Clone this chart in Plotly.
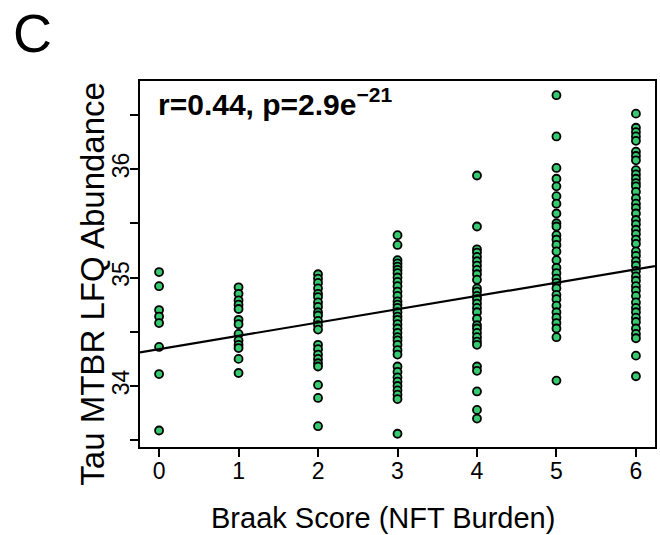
import plotly.graph_objects as go

# Braak score groups and Tau MTBR LFQ abundance values
braak_scores = [0, 1, 2, 3, 4, 5, 6]
braak0 = [35.05, 34.92, 34.70, 34.64, 34.58, 34.36, 34.11, 33.59]
braak1 = [34.91, 34.85, 34.79, 34.75, 34.71, 34.61, 34.57, 34.48, 34.42, 34.38,
          34.35, 34.25, 34.12]
braak2 = [35.03, 34.99, 34.95, 34.90, 34.85, 34.82, 34.77, 34.73, 34.68, 34.65,
          34.60, 34.56, 34.52, 34.38, 34.34, 34.29, 34.25, 34.21, 34.18, 34.01,
          33.89, 33.63]
braak3 = [35.39, 35.30, 35.16, 35.13, 35.10, 35.07, 35.04, 35.00, 34.96, 34.92,
          34.87, 34.83, 34.78, 34.75, 34.72, 34.68, 34.64, 34.61, 34.57, 34.53,
          34.49, 34.45, 34.42, 34.38, 34.33, 34.29, 34.18, 34.13, 34.08, 34.04,
          34.00, 33.96, 33.92, 33.88, 33.56]
braak4 = [35.94, 35.47, 35.26, 35.23, 35.19, 35.15, 35.11, 35.07, 35.03, 34.98,
          34.90, 34.87, 34.83, 34.80, 34.76, 34.72, 34.68, 34.62, 34.56, 34.53,
          34.49, 34.45, 34.41, 34.38, 34.18, 34.14, 33.95, 33.78, 33.70]
braak5 = [36.68, 36.30, 36.01, 35.91, 35.84, 35.75, 35.68, 35.59, 35.50, 35.47,
          35.39, 35.35, 35.30, 35.24, 35.16, 35.09, 35.04, 34.99, 34.95, 34.90,
          34.84, 34.80, 34.74, 34.68, 34.63, 34.58, 34.53, 34.45, 34.05]
braak6 = [36.51, 36.38, 36.34, 36.30, 36.26, 36.16, 36.12, 36.08, 35.99, 35.95,
          35.91, 35.87, 35.84, 35.79, 35.73, 35.68, 35.64, 35.59, 35.53, 35.49,
          35.44, 35.40, 35.35, 35.31, 35.24, 35.20, 35.15, 35.11, 35.06, 35.01,
          34.97, 34.92, 34.88, 34.83, 34.77, 34.72, 34.68, 34.63, 34.59, 34.53,
          34.48, 34.44, 34.28, 34.09]
groups = [braak0, braak1, braak2, braak3, braak4, braak5, braak6]

# Linear fit
fit_intercept = 34.34
fit_slope = 0.1225
stat_label = "r=0.44, p=2.9e<sup>\u221221</sup>"
x_title = "Braak Score (NFT Burden)"
y_title = "Tau MTBR LFQ Abundance"
panel_label = "C"

x_ticks = [0, 1, 2, 3, 4, 5, 6]
y_ticks = [34, 35, 36]

x_range = [-0.24, 6.24]
y_range = [33.438, 36.811]

xs, ys = [], []
for s, vals in zip(braak_scores, groups):
    xs += [s] * len(vals)
    ys += vals

FONT = "Liberation Sans, Arial, Helvetica, sans-serif"

fig = go.Figure()
fig.add_trace(go.Scatter(
    x=xs, y=ys, mode="markers",
    marker=dict(size=8, color="#36c96f", line=dict(color="black", width=1.8)),
    showlegend=False, hoverinfo="x+y",
))
fig.add_trace(go.Scatter(
    x=x_range, y=[fit_intercept + fit_slope * v for v in x_range],
    mode="lines", line=dict(color="black", width=2.2),
    showlegend=False, hoverinfo="skip",
))

fig.update_layout(
    width=660, height=535,
    margin=dict(l=140, r=5, t=81, b=88),
    paper_bgcolor="white", plot_bgcolor="white",
    font=dict(family=FONT, color="black"),
    xaxis=dict(
        range=x_range, tickvals=x_ticks, ticktext=[str(t) for t in x_ticks],
        ticks="outside", ticklen=8, tickwidth=1.8, tickcolor="black",
        ticklabelstandoff=-6,
        showline=True, mirror=True, linecolor="black", linewidth=2,
        showgrid=False, zeroline=False,
        tickfont=dict(size=23, family=FONT),
        automargin=False,
    ),
    yaxis=dict(
        range=y_range, tickvals=y_ticks, ticktext=[str(t) for t in y_ticks], tickangle=-90,
        ticks="outside", ticklen=8, tickwidth=1.8, tickcolor="black",
        ticklabelstandoff=-8,
        minor=dict(tick0=33.5, dtick=0.5, ticks="outside", ticklen=8,
                   tickwidth=1.8, tickcolor="black", showgrid=False),
        showline=True, mirror=True, linecolor="black", linewidth=2,
        showgrid=False, zeroline=False,
        tickfont=dict(size=23, family=FONT),
        automargin=False,
    ),
    annotations=[
        dict(text=panel_label, xref="paper", yref="paper", x=-0.2097, y=1.131,
             xanchor="center", yanchor="middle", showarrow=False,
             font=dict(size=54, family=FONT)),
        dict(text="<b>" + stat_label + "</b>", xref="paper", yref="paper",
             x=0.031, y=0.943, xanchor="left", yanchor="middle", showarrow=False,
             font=dict(size=30, family=FONT)),
        dict(text=x_title, xref="paper", yref="paper", x=0.472, y=-0.194,
             xanchor="center", yanchor="middle", showarrow=False,
             font=dict(size=29, family=FONT)),
        dict(text=y_title, xref="paper", yref="paper", x=-0.0922, y=0.445,
             xanchor="center", yanchor="middle", showarrow=False, textangle=-90,
             font=dict(size=33, family=FONT)),
    ],
)

fig.write_html("out.html", config={"displayModeBar": False},
               post_script="document.body.style.margin='0px';document.body.style.overflow='hidden';")
